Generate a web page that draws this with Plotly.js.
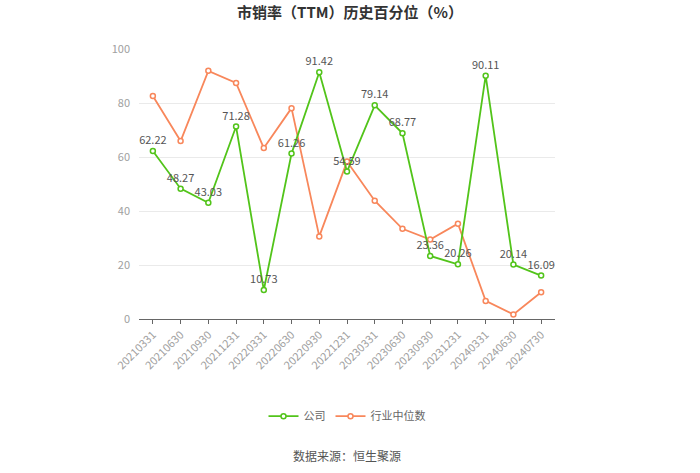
<!DOCTYPE html>
<html>
<head>
<meta charset="utf-8">
<script src="https://cdn.plot.ly/plotly-3.0.1.min.js"></script>
<style>
  html, body { margin: 0; padding: 0; background: #fff; }
  #chart { width: 700px; height: 473px; }
</style>
</head>
<body>
<div id="chart"></div>
<script>
  // 报告期
  const periods = ['20210331', '20210630', '20210930', '20211231', '20220331', '20220630',
    '20220930', '20221231', '20230331', '20230630', '20230930', '20231231',
    '20240331', '20240630', '20240730'];
  // 公司 市销率历史百分位
  const company = [62.22, 48.27, 43.03, 71.28, 10.73, 61.26, 91.42, 54.59, 79.14, 68.77,
    23.36, 20.26, 90.11, 20.14, 16.09];
  // 行业中位数 (估读)
  const industry = [82.6, 65.9, 91.9, 87.4, 63.3, 78.1, 30.6, 58.3, 43.8, 33.4,
    29.4, 35.3, 6.7, 1.7, 9.9];
  const yTicks = [0, 20, 40, 60, 80, 100];

  const GREEN = '#52c41a';
  const ORANGE = '#f8875b';
  const FONT = '"Noto Sans CJK SC", "Noto Sans", sans-serif';

  const traces = [
    {
      type: 'scatter',
      mode: 'lines+markers',
      name: '行业中位数',
      x: periods,
      y: industry,
      line: { color: ORANGE, width: 1.8 },
      marker: { symbol: 'circle', size: 5, color: '#fff', line: { color: ORANGE, width: 1.5 } },
      hoverinfo: 'skip',
    },
    {
      type: 'scatter',
      mode: 'lines+markers+text',
      name: '公司',
      x: periods,
      y: company,
      text: company.map((v) => v.toFixed(2)),
      textposition: 'top center',
      textfont: { size: 11, color: '#555', family: FONT },
      line: { color: GREEN, width: 1.8 },
      marker: { symbol: 'circle', size: 5, color: '#fff', line: { color: GREEN, width: 1.5 } },
      hoverinfo: 'skip',
      cliponaxis: false,
    },
  ];

  const layout = {
    width: 700,
    height: 473,
    paper_bgcolor: '#fff',
    plot_bgcolor: '#fff',
    font: { family: FONT, color: '#999', size: 11 },
    margin: { t: 49, r: 145, b: 154, l: 139 },
    title: {
      text: '市销率（TTM）历史百分位（%）',
      x: 0.5, xanchor: 'center', y: 0.985, yanchor: 'top',
      font: { size: 15, color: '#333', family: FONT, weight: 'bold' },
    },
    xaxis: {
      type: 'category',
      range: [-0.5, periods.length - 0.5],
      tickangle: -45,
      ticks: 'outside',
      ticklen: 4,
      tickcolor: '#666',
      showline: true,
      linecolor: '#666',
      showgrid: false,
      tickfont: { size: 11, color: '#a0a0a0' },
      fixedrange: true,
    },
    yaxis: {
      range: [0, 100],
      tickvals: yTicks,
      showgrid: true,
      gridcolor: '#eaeaea',
      zeroline: false,
      showline: false,
      tickfont: { size: 11, color: '#a0a0a0' },
      ticklabelstandoff: 8,
      fixedrange: true,
    },
    showlegend: true,
    legend: {
      orientation: 'h',
      x: 0.5, xanchor: 'center',
      y: -0.36, yanchor: 'middle',
      traceorder: 'reversed',
      itemwidth: 30,
      font: { size: 11, color: '#666', family: FONT },
    },
    annotations: [{
      text: '数据来源：恒生聚源',
      xref: 'paper', yref: 'paper',
      x: 0.5, xanchor: 'center',
      y: -0.507, yanchor: 'middle',
      showarrow: false,
      font: { size: 12, color: '#555', family: FONT },
    }],
  };

  Plotly.newPlot('chart', traces, layout, { displayModeBar: false, staticPlot: true });
</script>
</body>
</html>
